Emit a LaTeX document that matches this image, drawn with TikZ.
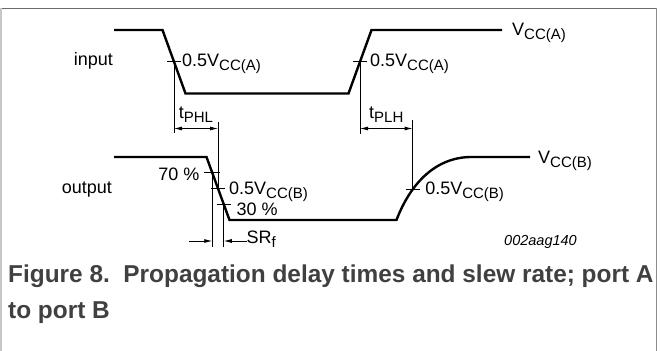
\documentclass[tikz,border=0pt]{standalone}
\usepackage{fontspec}
\setmainfont{Liberation Sans}
\usetikzlibrary{arrows.meta,calc}
\definecolor{capgrey}{HTML}{404040}
\newcommand{\lo}[1]{\raisebox{-4pt}{\fontsize{15}{15}\selectfont #1}}
\tikzset{
  wave/.style={line width=2.4pt,line join=miter},
  thinline/.style={line width=0.8pt},
  dimarrow/.style={thinline,{Latex[length=8pt,width=4pt]}-{Latex[length=8pt,width=4pt]}},
  srarrow/.style={thinline,-{Latex[length=8pt,width=4pt]}},
  lbl/.style={inner sep=0pt,font=\fontsize{18}{19}\selectfont},
  figcap/.style={inner sep=0pt,anchor=base west,text=capgrey,font=\fontsize{24.4}{30}\selectfont\bfseries}
}
\begin{document}
\begin{tikzpicture}[x=1pt,y=-1pt]
\useasboundingbox (0,0) rectangle (662,351);
\draw[line width=1.3pt,color=black!58] (0,8.3)--(657,8.3);
\draw[line width=1.2pt,color=black!22] (1,8.3)--(1,351);
\draw[line width=1.2pt,color=black!45] (656.5,8.3)--(656.5,351);
\coordinate (i1) at (162.5,30);
\coordinate (i2) at (185.5,93.5);
\coordinate (i3) at (348.5,93.5);
\coordinate (i4) at (371.5,30);
\draw[wave] (114,30)--(i1)--(i2)--(i3)--(i4)--(502,30);
\coordinate (ia) at ($(i1)!0.5!(i2)$);
\coordinate (ib) at ($(i3)!0.5!(i4)$);
\coordinate (o1) at (206.5,157);
\coordinate (o2) at (229.5,220);
\coordinate (o3) at (396.5,220);
\coordinate (o4) at (470,157);
\draw[wave] (114,157)--(o1)--(o2)--(o3) .. controls (404,200) and (425,158) .. (o4)--(530,157);
\coordinate (o70) at ($(o1)!0.25!(o2)$);
\coordinate (o50) at ($(o1)!0.5!(o2)$);
\coordinate (o30) at ($(o1)!0.75!(o2)$);
\coordinate (ob) at (412.6,189.4);
\draw[thinline] ($(ia)+(-7,0)$)--($(ia)+(7,0)$);
\draw[thinline] ($(ib)+(-7,0)$)--($(ib)+(7,0)$);
\draw[thinline] ($(o70)+(-8,0)$)--($(o70)+(8,0)$);
\draw[thinline] ($(o50)+(-7,0)$)--($(o50)+(7,0)$);
\draw[thinline] ($(o30)+(-7,0)$)--($(o30)+(7,0)$);
\draw[thinline] ($(ob)+(-7,0)$)--($(ob)+(7,0)$);
\draw[thinline] (ia)--(ia|-0,133);
\draw[thinline] (o50|-0,122)--(o50);
\draw[thinline] (ib)--(ib|-0,134);
\draw[thinline] (ob|-0,120)--(ob);
\draw[thinline] (o70)--(o70|-0,247);
\draw[thinline] (o30)--(o30|-0,247);
\draw[dimarrow] (ia|-0,128.5)--(o50|-0,128.5);
\draw[dimarrow] (ib|-0,128.5)--(ob|-0,128.5);
\node[lbl,anchor=base] (tphl) at ($(ia|-0,118.5)!0.5!(o50|-0,118.5)$) {t\lo{PHL}};
\node[lbl,anchor=base] (tplh) at ($(ib|-0,118.5)!0.5!(ob|-0,118.5)$) {t\lo{PLH}};
\node[lbl,anchor=base east] (in) at (113,65.5) {input};
\node[lbl,anchor=base east] (out) at (112,193) {output};
\node[lbl,anchor=base west] (va) at (512,35.5) {V\lo{CC(A)}};
\node[lbl,anchor=base west] (vb) at (538,163) {V\lo{CC(B)}};
\node[lbl,anchor=base west] (ha) at ($(ia)+(8,5)$) {0.5V\lo{CC(A)}};
\node[lbl,anchor=base west] (hb) at ($(ib)+(10,5)$) {0.5V\lo{CC(A)}};
\node[lbl,anchor=base west] (hc) at ($(o50)+(11,6)$) {0.5V\lo{CC(B)}};
\node[lbl,anchor=base west] (hd) at ($(ob)+(12.5,5.5)$) {0.5V\lo{CC(B)}};
\node[lbl,anchor=base east] (p70) at (199.5,180) {70 \%};
\node[lbl,anchor=base west] (p30) at (236.5,215) {30 \%};
\node[lbl,anchor=base west] (srf) at (246.5,243) {SR\lo{f}};
\draw[srarrow] (189,241)--(o70|-0,241);
\draw[srarrow] (srf.west|-0,241)--(o30|-0,241);
\node[inner sep=0pt,anchor=base east,font=\fontsize{14.5}{16}\selectfont\itshape] (code) at (577,245) {002aag140};
\node[figcap] (cap1) at (8,282.5) {Figure 8.\ \ Propagation delay times and slew rate; port A};
\node[figcap] (cap2) at (8,318.5) {to port B};
\end{tikzpicture}
\end{document}
